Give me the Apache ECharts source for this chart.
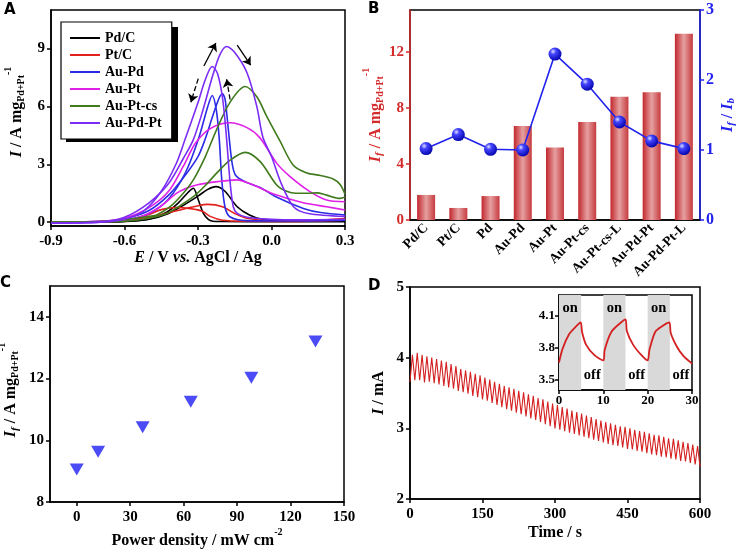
<!DOCTYPE html>
<html>
<head>
<meta charset="utf-8">
<script src="https://cdn.jsdelivr.net/npm/echarts@6/dist/echarts.min.js"></script>
<style>
  html, body { margin: 0; padding: 0; background: #fff; }
  #chart { width: 736px; height: 549px; }
</style>
</head>
<body>
<div id="chart"></div>
<script>
// ---------- Panel A: cyclic voltammograms, [E (V), I (A/mg)] ----------
const pdcForward = [[-0.9,0],[-0.7,0.01],[-0.6,0.04],[-0.5,0.15],[-0.42,0.45],[-0.35,0.95],[-0.3,1.35],[-0.26,1.7],[-0.227,1.84],[-0.19,1.6],[-0.14,0.8],[-0.09,0.37],[-0.04,0.15],[0.05,0.05],[0.3,0.05]]
const pdcBackward = [[0.3,0.02],[0,0.02],[-0.2,0.03],[-0.24,0.05],[-0.258,0.14],[-0.278,0.45],[-0.3,1.2],[-0.319,1.76],[-0.34,1.55],[-0.38,1.0],[-0.43,0.5],[-0.5,0.15],[-0.6,0.03],[-0.9,0]]
const ptcForward = [[-0.9,0],[-0.7,0.02],[-0.6,0.08],[-0.5,0.25],[-0.4,0.55],[-0.3,0.85],[-0.26,0.92],[-0.2,0.8],[-0.15,0.45],[-0.1,0.2],[0,0.08],[0.15,0.08],[0.3,0.18]]
const ptcBackward = [[0.3,0.1],[0.1,0.04],[-0.1,0.05],[-0.2,0.1],[-0.25,0.3],[-0.28,0.55],[-0.33,0.7],[-0.39,0.76],[-0.45,0.65],[-0.5,0.4],[-0.55,0.2],[-0.65,0.05],[-0.9,0]]
const auPdForward = [[-0.9,0],[-0.7,0.04],[-0.6,0.18],[-0.5,0.6],[-0.42,1.4],[-0.36,2.3],[-0.3,3.4],[-0.271,4.3],[-0.24,5.5],[-0.215,6.4],[-0.201,6.66],[-0.19,6.4],[-0.183,5.67],[-0.172,4.28],[-0.16,3.0],[-0.145,2.4],[-0.1,2.05],[-0.047,1.8],[0.02,1.3],[0.13,0.71],[0.2,0.5],[0.3,0.37]]
const auPdBackward = [[0.3,0.1],[0.1,0.06],[-0.1,0.08],[-0.17,0.28],[-0.19,0.8],[-0.203,2.19],[-0.213,4.28],[-0.225,5.8],[-0.242,6.57],[-0.26,6.0],[-0.299,4.28],[-0.35,2.6],[-0.42,1.2],[-0.5,0.45],[-0.6,0.1],[-0.7,0.02],[-0.9,0]]
const auPtForward = [[-0.9,0],[-0.7,0.04],[-0.6,0.2],[-0.5,0.75],[-0.42,1.6],[-0.36,2.9],[-0.31,4.1],[-0.25,4.85],[-0.17,5.15],[-0.1,4.9],[-0.047,4.37],[0.021,3.06],[0.076,2.36],[0.157,1.58],[0.225,1.15],[0.3,1.06]]
const auPtBackward = [[0.3,0.63],[0.225,0.8],[0.15,0.95],[0.088,1.15],[0,1.5],[-0.06,1.85],[-0.142,2.19],[-0.22,2.1],[-0.306,1.93],[-0.35,1.75],[-0.387,1.5],[-0.455,0.8],[-0.52,0.35],[-0.6,0.1],[-0.9,0]]
const auPtCsForward = [[-0.9,0],[-0.7,0.03],[-0.6,0.12],[-0.5,0.3],[-0.469,0.37],[-0.414,0.8],[-0.36,1.5],[-0.319,2.19],[-0.27,3.4],[-0.224,4.8],[-0.17,6.2],[-0.108,7.03],[-0.06,6.5],[-0.02,5.5],[0.035,4.2],[0.089,2.95],[0.144,2.55],[0.2,2.42],[0.25,2.25],[0.28,1.95],[0.3,1.45]]
const auPtCsBackward = [[0.3,1.3],[0.28,1.23],[0.225,1.4],[0.185,1.52],[0.15,1.5],[0.1,1.5],[0.062,1.6],[0.021,1.93],[-0.047,3.15],[-0.108,3.62],[-0.17,3.2],[-0.224,2.54],[-0.27,1.9],[-0.319,1.32],[-0.38,0.8],[-0.428,0.45],[-0.5,0.2],[-0.6,0.05],[-0.9,0]]
const auPdPtForward = [[-0.9,-0.05],[-0.7,0],[-0.6,0.25],[-0.5,1.0],[-0.42,2.0],[-0.36,3.3],[-0.319,4.28],[-0.28,5.8],[-0.24,7.6],[-0.21,8.7],[-0.183,9.11],[-0.15,8.8],[-0.1,7.75],[-0.06,6.0],[-0.035,4.4],[0,3.4],[0.04,2.0],[0.09,0.8],[0.15,0.45],[0.3,0.3]]
const auPdPtBackward = [[0.3,0.15],[0.1,0.12],[0,0.15],[-0.1,0.25],[-0.14,0.45],[-0.156,0.8],[-0.17,2.2],[-0.183,4.28],[-0.199,6.36],[-0.22,7.7],[-0.242,8.07],[-0.27,7.4],[-0.3,6.2],[-0.353,4.28],[-0.39,3.0],[-0.45,1.6],[-0.52,0.6],[-0.6,0.15],[-0.7,0],[-0.9,-0.05]]
const cvTicksX = [-0.9, -0.6, -0.3, 0, 0.3]
const cvTicksY = [0, 3, 6, 9]

// ---------- Panel B ----------
const catalysts = ['Pd/C', 'Pt/C', 'Pd', 'Au-Pd', 'Au-Pt', 'Au-Pt-cs', 'Au-Pt-cs-L', 'Au-Pd-Pt', 'Au-Pd-Pt-L']
const forwardPeakCurrent = [1.79, 0.86, 1.71, 6.71, 5.17, 7.0, 8.81, 9.12, 13.31]
const currentRatio = [1.02, 1.22, 1.01, 1.0, 2.37, 1.94, 1.40, 1.13, 1.02]
const barTicksY = [0, 4, 8, 12]

// ---------- Panel C ----------
const powerDensity = [0, 12, 37, 64, 98, 134]
const lightCurrent = [9.05, 9.63, 10.42, 11.25, 12.03, 13.2]
const powerTicksX = [0, 30, 60, 90, 120, 150]
const powerTicksY = [8, 10, 12, 14]

// ---------- Panel D: on/off chronoamperometry, period 10 s ----------
const switchPeriod = 10
const peakCurrent = [
  4.04, 4.07, 4.04, 4.02, 4.00, 3.98, 3.96, 3.94, 3.91, 3.88,
  3.84, 3.82, 3.80, 3.77, 3.75, 3.72, 3.69, 3.66, 3.63, 3.60,
  3.58, 3.56, 3.53, 3.51, 3.48, 3.46, 3.43, 3.41, 3.38, 3.35,
  3.33, 3.30, 3.28, 3.25, 3.23, 3.21, 3.18, 3.16, 3.13, 3.11,
  3.09, 3.07, 3.05, 3.03, 3.02, 3.00, 2.98, 2.96, 2.95, 2.93,
  2.91, 2.90, 2.88, 2.86, 2.85, 2.83, 2.81, 2.79, 2.77, 2.75
]
const troughCurrent = [
  3.66, 3.68, 3.68, 3.65, 3.66, 3.64, 3.62, 3.60, 3.58, 3.56,
  3.53, 3.51, 3.49, 3.46, 3.44, 3.41, 3.39, 3.36, 3.33, 3.30,
  3.27, 3.25, 3.22, 3.20, 3.17, 3.14, 3.12, 3.09, 3.06, 3.03,
  3.00, 2.98, 2.96, 2.94, 2.92, 2.90, 2.88, 2.86, 2.84, 2.82,
  2.80, 2.78, 2.76, 2.75, 2.73, 2.71, 2.70, 2.68, 2.67, 2.65,
  2.63, 2.62, 2.60, 2.59, 2.57, 2.56, 2.54, 2.53, 2.51, 2.49, 2.46
]
const insetTime = [0, 0.8, 2.3, 3.8, 4.9, 5.2, 6.1, 8.0, 10.0, 10.3, 11.8, 13.7, 15.0, 15.3, 16.7, 18.6, 20.0, 20.4, 21.7, 23.5, 24.9, 25.2, 26.6, 28.1, 30]
const insetCurrent = [3.66, 3.79, 3.93, 4.0, 4.04, 3.95, 3.83, 3.73, 3.68, 3.78, 3.95, 4.03, 4.07, 3.96, 3.83, 3.73, 3.68, 3.78, 3.95, 4.01, 4.04, 3.94, 3.81, 3.72, 3.65]
const insetTicksY = [3.5, 3.8, 4.1]
const lightOnIntervals = [[0, 5], [10, 15], [20, 25]]
const lightOffIntervals = [[5, 10], [15, 20], [25, 30]]

const SERIF = "'Liberation Serif', 'DejaVu Serif', serif"
const cvNames = ['Pd/C', 'Pt/C', 'Au-Pd', 'Au-Pt', 'Au-Pt-cs', 'Au-Pd-Pt']
const cvColors = ['#000000', '#e3201b', '#2b2be6', '#e020e6', '#3f7a1c', '#7b2cf5']
const cvCurves = [
  [pdcForward, pdcBackward], [ptcForward, ptcBackward], [auPdForward, auPdBackward],
  [auPtForward, auPtBackward], [auPtCsForward, auPtCsBackward], [auPdPtForward, auPdPtBackward]
]

const labelFont = (color, size) => ({
  fontFamily: SERIF, fontWeight: 'bold', fontSize: size || 15, color: color || '#000'
})
const rich = (color) => ({
  i: { fontFamily: SERIF, fontStyle: 'italic', fontWeight: 'bold', fontSize: 16, color },
  n: { fontFamily: SERIF, fontWeight: 'bold', fontSize: 16, color },
  sub: { fontFamily: SERIF, fontWeight: 'bold', fontSize: 10, color, padding: [9, 0, 0, 0] },
  subi: { fontFamily: SERIF, fontStyle: 'italic', fontWeight: 'bold', fontSize: 11, color, padding: [8, 0, 0, 0] },
  sup: { fontFamily: SERIF, fontWeight: 'bold', fontSize: 10, color, padding: [0, 0, 18, 0] }
})
const nameStyle = (color, padding) => ({
  fontFamily: SERIF, fontWeight: 'bold', fontSize: 16, color, rich: rich(color), padding: padding || 0
})
const line = (color) => ({ show: true, onZero: false, lineStyle: { color: color || '#000', width: 1.5 } })
const tick = (color, values) => ({ show: true, inside: false, length: 4, customValues: values, lineStyle: { color: color || '#000', width: 1.5 } })

const cvSeries = []
cvCurves.forEach((pair, k) => {
  pair.forEach((data) => {
    cvSeries.push({
      name: cvNames[k], type: 'line', xAxisIndex: 0, yAxisIndex: 0,
      data: data, symbol: 'none', smooth: 0.3, z: 3 + k,
      lineStyle: { color: cvColors[k], width: 1.6 }, itemStyle: { color: cvColors[k] }
    })
  })
})
// scan direction arrows
cvSeries[cvSeries.length - 1].markLine = {
  silent: true, symbol: ['none', 'arrow'], symbolSize: 8, animation: false,
  label: { show: false }, lineStyle: { color: '#000', width: 1.3, type: 'solid' },
  data: [
    [{ coord: [-0.276, 8.1] }, { coord: [-0.227, 9.29] }],
    [{ coord: [-0.14, 9.18] }, { coord: [-0.085, 8.14] }],
    [{ coord: [-0.299, 7.44], lineStyle: { type: 'dashed' } }, { coord: [-0.329, 6.22] }],
    [{ coord: [-0.169, 6.36], lineStyle: { type: 'dashed' } }, { coord: [-0.183, 7.41] }]
  ]
}

const chronoData = []
peakCurrent.forEach((p, i) => {
  chronoData.push([i * switchPeriod, troughCurrent[i]])
  chronoData.push([i * switchPeriod + switchPeriod / 2, p])
})
chronoData.push([peakCurrent.length * switchPeriod, troughCurrent[peakCurrent.length]])

const barColor = new echarts.graphic.LinearGradient(0, 0, 1, 0, [
  { offset: 0, color: '#c1272d' },
  { offset: 0.5, color: '#e6a0a0' },
  { offset: 1, color: '#c63a3e' }
])
const sphere = new echarts.graphic.RadialGradient(0.35, 0.3, 0.75, [
  { offset: 0, color: '#e2e2ff' },
  { offset: 0.3, color: '#4545ff' },
  { offset: 1, color: '#0000a8' }
])

const markAreaData = lightOnIntervals.map(r => [
  { xAxis: r[0], name: 'on', itemStyle: { color: '#d9d9d9' }, label: { position: 'insideTop', distance: 6 } },
  { xAxis: r[1] }
]).concat(lightOffIntervals.map(r => [
  { xAxis: r[0], name: 'off', itemStyle: { color: 'rgba(255,255,255,0)' }, label: { position: 'insideBottom', distance: 7 } },
  { xAxis: r[1] }
]))

const gridBase = { show: true, borderColor: '#000', borderWidth: 1.5, backgroundColor: 'rgba(0,0,0,0)', outerBoundsMode: 'none', containLabel: false }

const option = {
  animation: false,
  backgroundColor: '#fff',
  legend: {
    data: cvNames, left: 61, top: 22, orient: 'vertical', selectedMode: false, z: 10,
    icon: 'rect', itemWidth: 30, itemHeight: 2, itemGap: 3, padding: [9, 10, 9, 9],
    backgroundColor: '#fff', borderColor: '#000', borderWidth: 1.2,
    textStyle: labelFont('#000', 14)
  },
  grid: [
    Object.assign({ left: 51, top: 10, width: 294, height: 216 }, gridBase),
    Object.assign({ left: 410, top: 10, width: 290, height: 210 }, gridBase),
    Object.assign({ left: 50, top: 286, width: 294, height: 216 }, gridBase),
    Object.assign({ left: 410, top: 287, width: 290, height: 212 }, gridBase),
    Object.assign({ left: 559, top: 295, width: 133, height: 95 }, gridBase)
  ],
  xAxis: [
    {
      gridIndex: 0, type: 'value', min: -0.9, max: 0.3,
      axisLine: line(), axisTick: tick('#000', cvTicksX), splitLine: { show: false },
      axisLabel: Object.assign({ customValues: cvTicksX, margin: 8, formatter: v => v.toFixed(1) }, labelFont()),
      name: '{i|E}{n| / V }{i|vs.}{n| AgCl / Ag}', nameLocation: 'middle', nameGap: 24, nameTextStyle: nameStyle('#000')
    },
    {
      gridIndex: 1, type: 'category', data: catalysts, boundaryGap: true,
      axisLine: line(), axisTick: { show: false }, splitLine: { show: false },
      axisLabel: Object.assign({ rotate: 45, margin: 6, interval: 0 }, labelFont('#000', 13.5))
    },
    {
      gridIndex: 2, type: 'value', min: -15, max: 150,
      axisLine: line(), axisTick: tick('#000', powerTicksX), splitLine: { show: false },
      axisLabel: Object.assign({ customValues: powerTicksX, margin: 8 }, labelFont()),
      name: '{n|Power density / mW cm}{sup|-2}', nameLocation: 'middle', nameGap: 25, nameTextStyle: nameStyle('#000')
    },
    {
      gridIndex: 3, type: 'value', min: 0, max: 600, interval: 150,
      axisLine: line(), axisTick: tick('#000'), splitLine: { show: false },
      axisLabel: Object.assign({ margin: 8 }, labelFont()),
      name: 'Time / s', nameLocation: 'middle', nameGap: 26, nameTextStyle: nameStyle('#000')
    },
    {
      gridIndex: 4, type: 'value', min: 0, max: 30, interval: 10,
      axisLine: line(), axisTick: tick('#000'), splitLine: { show: false },
      axisLabel: Object.assign({ margin: 4 }, labelFont('#000', 13))
    }
  ],
  yAxis: [
    {
      gridIndex: 0, type: 'value', min: -0.2, max: 11,
      axisLine: line(), axisTick: tick('#000', cvTicksY), splitLine: { show: false },
      axisLabel: Object.assign({ customValues: cvTicksY, margin: 6 }, labelFont()),
      name: '{i|I}{n| / A mg}{sub|Pd+Pt}{sup|-1}', nameLocation: 'middle', nameRotate: 90, nameGap: 20,
      nameTextStyle: nameStyle('#000', [0, 0, 0, 12])
    },
    {
      gridIndex: 1, type: 'value', min: 0, max: 15,
      axisLine: line('#d42a2a'), axisTick: tick('#d42a2a', barTicksY), splitLine: { show: false },
      axisLabel: Object.assign({ customValues: barTicksY, margin: 6 }, labelFont('#d42a2a')),
      name: '{i|I}{subi|f}{n| / A mg}{sub|Pd+Pt}{sup|-1}', nameLocation: 'middle', nameRotate: 90, nameGap: 20,
      nameTextStyle: nameStyle('#d42a2a')
    },
    {
      gridIndex: 1, type: 'value', position: 'right', min: 0, max: 3, interval: 1,
      axisLine: line('#2222ee'), axisTick: tick('#2222ee'), splitLine: { show: false },
      axisLabel: Object.assign({ margin: 6 }, labelFont('#2222ee', 16)),
      name: '{i|I}{subi|f}{n| / }{i|I}{subi|b}', nameLocation: 'middle', nameRotate: 90, nameGap: 18,
      nameTextStyle: nameStyle('#2222ee')
    },
    {
      gridIndex: 2, type: 'value', min: 8, max: 15,
      axisLine: line(), axisTick: tick('#000', powerTicksY), splitLine: { show: false },
      axisLabel: Object.assign({ customValues: powerTicksY, margin: 6 }, labelFont()),
      name: '{i|I}{subi|f}{n| / A mg}{sub|Pd+Pt}{sup|-1}', nameLocation: 'middle', nameRotate: 90, nameGap: 25,
      nameTextStyle: nameStyle('#000', [0, 0, 0, 8])
    },
    {
      gridIndex: 3, type: 'value', min: 2, max: 5, interval: 1,
      axisLine: line(), axisTick: tick('#000'), splitLine: { show: false },
      axisLabel: Object.assign({ margin: 6 }, labelFont()),
      name: '{i|I}{n| / mA}', nameLocation: 'middle', nameRotate: 90, nameGap: 23,
      nameTextStyle: nameStyle('#000')
    },
    {
      gridIndex: 4, type: 'value', min: 3.4, max: 4.3,
      axisLine: line(), axisTick: tick('#000', insetTicksY), splitLine: { show: false },
      axisLabel: Object.assign({ customValues: insetTicksY, margin: 4, formatter: v => v.toFixed(1) }, labelFont('#000', 13))
    }
  ],
  series: cvSeries.concat([
    {
      type: 'bar', xAxisIndex: 1, yAxisIndex: 1, data: forwardPeakCurrent,
      barWidth: 18, itemStyle: { color: barColor }, z: 2
    },
    {
      type: 'line', xAxisIndex: 1, yAxisIndex: 2, data: currentRatio,
      symbol: 'circle', symbolSize: 13, z: 4,
      lineStyle: { color: '#2222ee', width: 1.6 },
      itemStyle: { color: sphere, borderWidth: 0 }
    },
    {
      type: 'scatter', xAxisIndex: 2, yAxisIndex: 3,
      data: powerDensity.map((p, i) => [p, lightCurrent[i]]),
      symbol: 'triangle', symbolRotate: 180, symbolSize: [14, 12],
      itemStyle: { color: '#1f1ff5' }
    },
    {
      type: 'line', xAxisIndex: 3, yAxisIndex: 4, data: chronoData,
      symbol: 'none', lineStyle: { color: '#d42020', width: 1.1 }
    },
    {
      type: 'line', xAxisIndex: 4, yAxisIndex: 5,
      data: insetTime.map((t, i) => [t, insetCurrent[i]]),
      symbol: 'none', smooth: 0.25, lineStyle: { color: '#d42020', width: 1.8 },
      markArea: {
        silent: true,
        label: Object.assign({ show: true, formatter: '{b}' }, labelFont('#000', 14.5)),
        data: markAreaData
      }
    }
  ]),
  graphic: [
    // drop shadow behind the legend box
    { type: 'rect', left: 66, top: 27, z: 1, shape: { width: 112, height: 115 }, style: { fill: '#000' } },
    { type: 'text', left: 4, top: 3, style: { text: 'A', font: 'bold 15px "DejaVu Sans"', fill: '#000' } },
    { type: 'text', left: 368, top: 2, style: { text: 'B', font: 'bold 15px "DejaVu Sans"', fill: '#000' } },
    { type: 'text', left: 0, top: 276, style: { text: 'C', font: 'bold 15px "DejaVu Sans"', fill: '#000' } },
    { type: 'text', left: 368, top: 279, style: { text: 'D', font: 'bold 15px "DejaVu Sans"', fill: '#000' } }
  ]
}

const myChart = echarts.init(document.getElementById('chart'))
option && myChart.setOption(option)
</script>
</body>
</html>
